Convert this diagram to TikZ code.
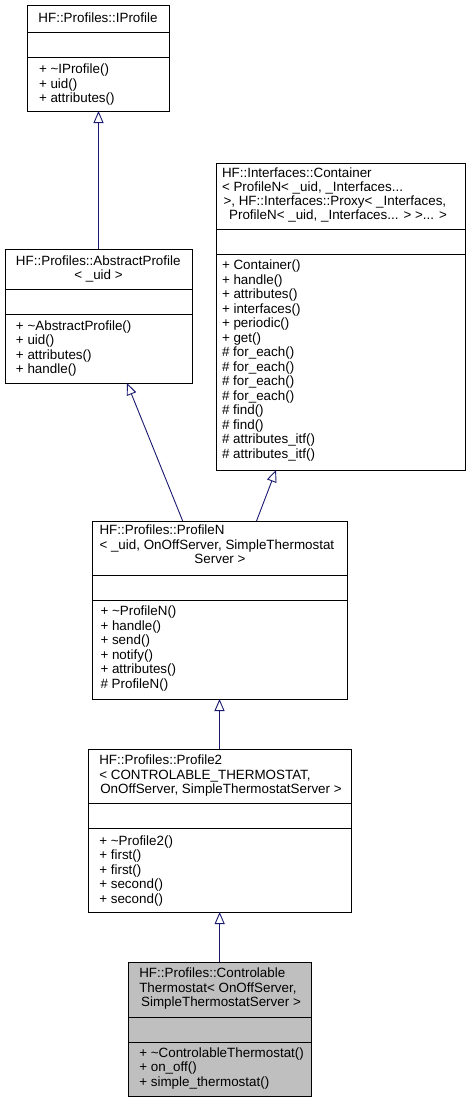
\documentclass[tikz,border=0pt]{standalone}
\usepackage{fontspec}
\setmainfont{Liberation Sans}
\usetikzlibrary{arrows.meta}
\definecolor{edgeblue}{RGB}{25,25,112}
\definecolor{hilite}{RGB}{191,191,191}
\newcommand\umlmethods[4]{%
  \foreach \lbl [count=\i from 0] in {#4} {
    \node[txt, anchor=base west] (#1\i) at (#2, #3+14.5*\i) {\lbl};
  }}
\begin{document}
\begin{tikzpicture}[x=1pt,y=-1pt,
  cls/.style={draw=black, line width=0.9pt, fill=white, inner sep=0pt, outer sep=0pt},
  txt/.style={inner sep=0pt, outer sep=0pt, font=\fontsize{13.4}{14.5}\selectfont},
  divider/.style={draw=black, line width=0.9pt},
  inh/.style={draw=edgeblue, line width=0.9pt, -{Triangle[open,length=12pt,width=10pt]}}]
\fill[white] (0,0) rectangle (471,1103);
\useasboundingbox (0,0) rectangle (471,1103);

% ---------- boxes ----------
\node[cls, minimum width=142pt, minimum height=106pt] (ip) at (98,58) {};
\node[cls, minimum width=187pt, minimum height=134pt] (ap) at (98.5,316) {};
\node[cls, minimum width=248.5pt, minimum height=307pt] (ct) at (340.75,316.5) {};
\node[cls, minimum width=254.5pt, minimum height=178pt] (pn) at (219.75,610) {};
\node[cls, minimum width=263pt, minimum height=163pt] (p2) at (219.5,830.5) {};
\node[cls, fill=hilite, minimum width=182.7pt, minimum height=134pt] (cb) at (219.65,1029) {};

% ---------- dividers ----------
\draw[divider] (ip.west |- 0,32) -- (ip.east |- 0,32);
\draw[divider] (ip.west |- 0,57) -- (ip.east |- 0,57);
\draw[divider] (ap.west |- 0,289) -- (ap.east |- 0,289);
\draw[divider] (ap.west |- 0,314) -- (ap.east |- 0,314);
\draw[divider] (ct.west |- 0,229.5) -- (ct.east |- 0,229.5);
\draw[divider] (ct.west |- 0,254.5) -- (ct.east |- 0,254.5);
\draw[divider] (pn.west |- 0,575) -- (pn.east |- 0,575);
\draw[divider] (pn.west |- 0,600) -- (pn.east |- 0,600);
\draw[divider] (p2.west |- 0,803) -- (p2.east |- 0,803);
\draw[divider] (p2.west |- 0,828) -- (p2.east |- 0,828);
\draw[divider] (cb.west |- 0,1017) -- (cb.east |- 0,1017);
\draw[divider] (cb.west |- 0,1042) -- (cb.east |- 0,1042);

% ---------- IProfile ----------
\node[txt, anchor=base] (iph) at (98,22.5) {HF::Profiles::IProfile};
\umlmethods{ipm}{39}{73.5}{+ \textasciitilde IProfile(), + uid(), + attributes()}

% ---------- AbstractProfile ----------
\node[txt, anchor=base west] (aph1) at (16,265.5) {HF::Profiles::AbstractProfile};
\node[txt, anchor=base] (aph2) at (98.5,279.5) {< \_uid >};
\umlmethods{apm}{16}{330}{+ \textasciitilde AbstractProfile(), + uid(), + attributes(), + handle()}

% ---------- Container ----------
\node[txt, anchor=base west] (cth1) at (222,177) {HF::Interfaces::Container};
\node[txt, anchor=base west] (cth2) at (222,191) {< ProfileN< \_uid, \_Interfaces...};
\node[txt, anchor=base west] (cth3) at (223.5,205) {>, HF::Interfaces::Proxy< \_Interfaces,};
\node[txt, anchor=base] (cth4) at (338,219) {ProfileN< \_uid, \_Interfaces... > >... >};
\umlmethods{ctm}{222}{269.5}{+ Container(), + handle(), + attributes(), + interfaces(), + periodic(), + get(),
  \# for\_each(), \# for\_each(), \# for\_each(), \# for\_each(), \# find(), \# find(),
  \# attributes\_itf(), \# attributes\_itf()}

% ---------- ProfileN ----------
\node[txt, anchor=base west] (pnh1) at (99.5,534.5) {HF::Profiles::ProfileN};
\node[txt, anchor=base west] (pnh2) at (99.5,549) {< \_uid, OnOffServer, SimpleThermostat};
\node[txt, anchor=base] (pnh3) at (220,563.5) {Server >};
\umlmethods{pnm}{100.5}{615.5}{+ \textasciitilde ProfileN(), + handle(), + send(), + notify(), + attributes(), \# ProfileN()}

% ---------- Profile2 ----------
\node[txt, anchor=base west] (p2h1) at (99.3,764.3) {HF::Profiles::Profile2};
\node[txt, anchor=base west] (p2h2) at (99.3,779) {< CONTROLABLE\_THERMOSTAT,};
\node[txt, anchor=base] (p2h3) at (221,793.5) {OnOffServer, SimpleThermostatServer >};
\umlmethods{p2m}{99.3}{845}{+ \textasciitilde Profile2(), + first(), + first(), + second(), + second()}

% ---------- ControlableThermostat ----------
\node[txt, anchor=base west] (cbh1) at (139.3,977.3) {HF::Profiles::Controlable};
\node[txt, anchor=base west] (cbh2) at (139.3,992) {Thermostat< OnOffServer,};
\node[txt, anchor=base] (cbh3) at (221,1006.5) {SimpleThermostatServer >};
\umlmethods{cbm}{139.3}{1057.3}{+ \textasciitilde ControlableThermostat(), + on\_off(), + simple\_thermostat()}

% ---------- inheritance edges ----------
\draw[inh] (ap.north) -- (ap.north |- ip.south);
\draw[inh] (pn.north -| 182.7,0) -- (ap.south -| 127,0);
\draw[inh] (pn.north -| 256.5,0) -- (ct.south -| 276,0);
\draw[inh] (p2.north) -- (p2.north |- pn.south);
\draw[inh] (cb.north) -- (cb.north |- p2.south);
\end{tikzpicture}
\end{document}
